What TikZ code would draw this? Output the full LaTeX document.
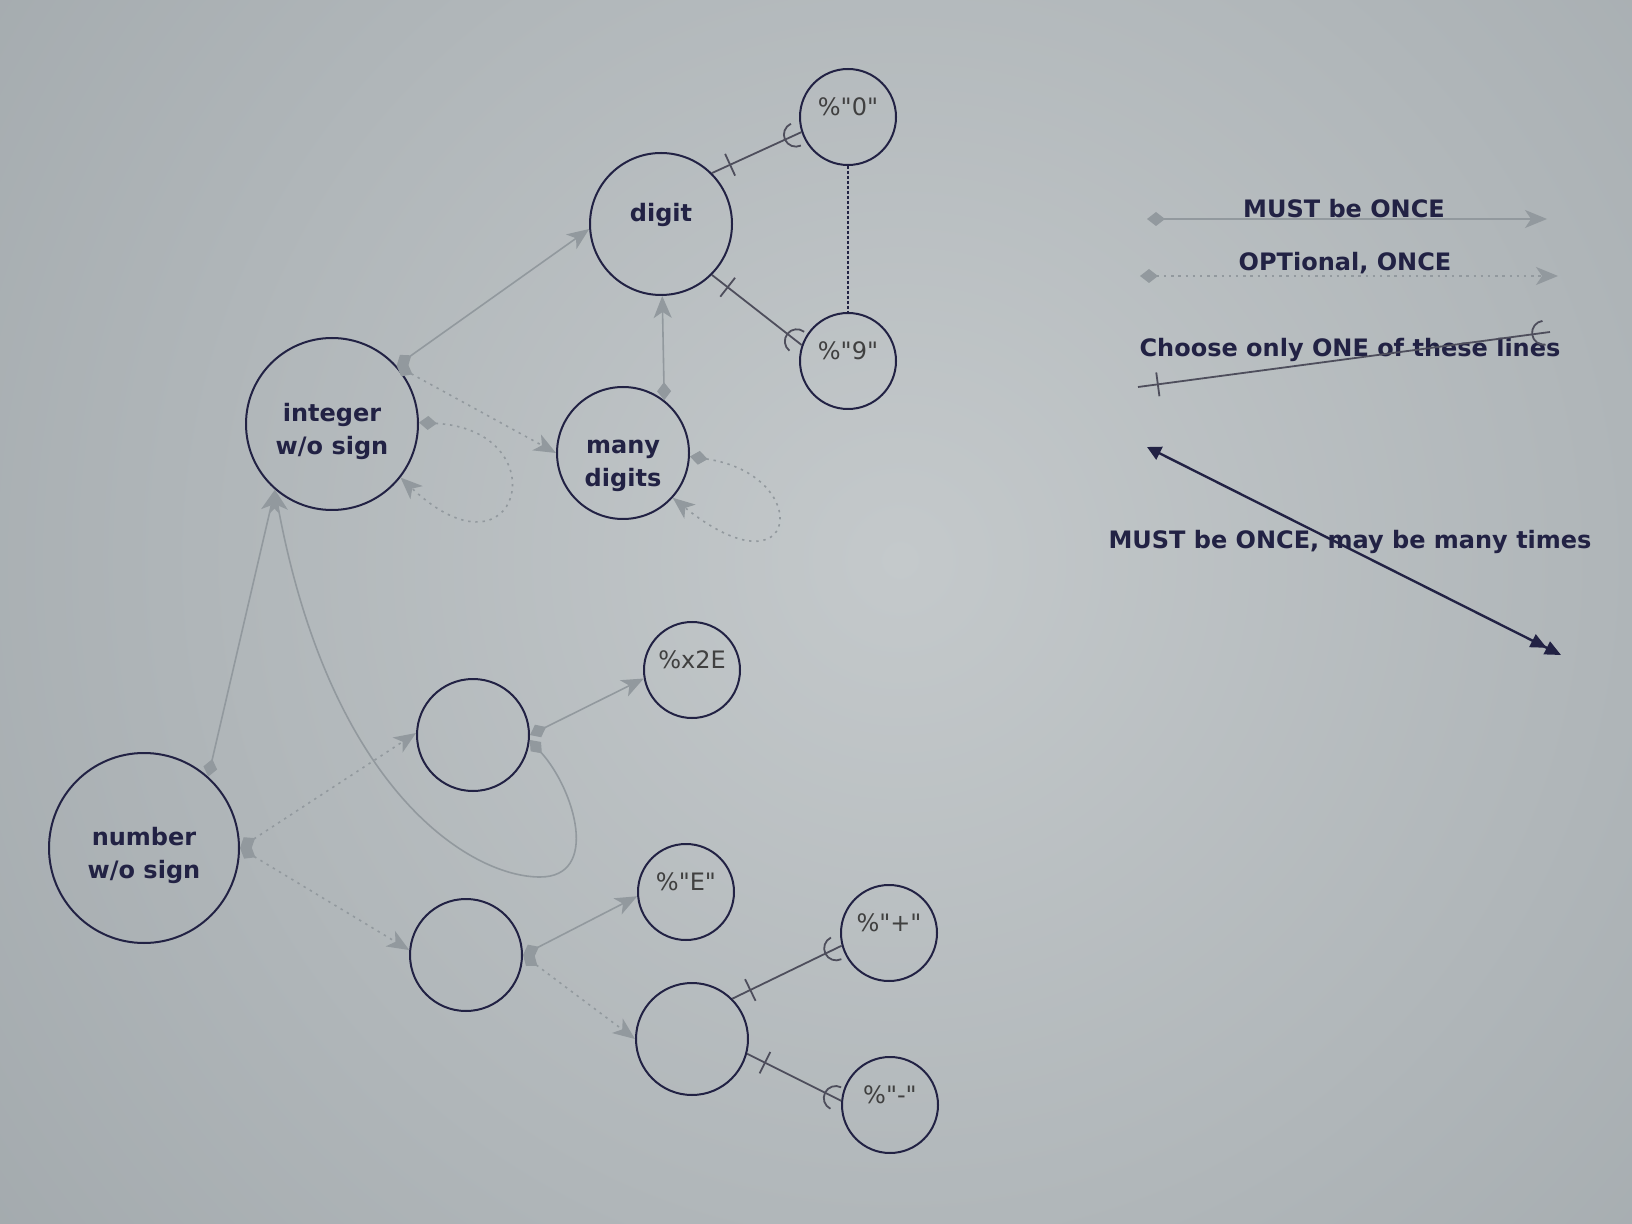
\documentclass[tikz,border=0pt]{standalone}
\usepackage{fontspec}
\setmainfont{DejaVu Sans}
\newfontfamily\termfont{DejaVu Sans}[Ligatures=TeXOff]
\usetikzlibrary{arrows.meta,positioning,decorations.markings}

\definecolor{ink}{RGB}{34,34,68}
\definecolor{faint}{RGB}{146,153,158}
\definecolor{wire}{RGB}{78,78,92}
\definecolor{bglight}{RGB}{196,201,203}
\definecolor{bgdark}{RGB}{136,144,149}

\tikzset{
  rulenode/.style={draw=ink, circle, line width=1pt, inner sep=0pt, align=center,
    text=ink, font=\bfseries\fontsize{12}{16.5}\selectfont},
  namelabel/.style={align=center, text=ink, yshift=-3.5pt,
    font=\bfseries\fontsize{12}{16.5}\selectfont},
  termnode/.style={rulenode, text=black!75, text depth=10.5pt, font=\termfont\fontsize{12}{14}\selectfont},
  legendtext/.style={text=ink, font=\bfseries\fontsize{12}{14}\selectfont},
  mustline/.style={draw=faint, line width=0.8pt,
    {Diamond[length=9pt,width=7pt]}-{Stealth[length=11pt,width=9pt,inset=3pt]}},
  optline/.style={mustline, dash pattern=on 1.2pt off 2.4pt},
  onlyone/.style={draw=wire, line width=0.9pt, postaction={decorate},
    decoration={markings,
      mark=at position 10pt with {\draw[wire, solid, line width=0.9pt] (0,-6pt) -- (0,6pt);},
      mark=at position -6pt with {\draw[wire, solid, line width=0.9pt] (3pt,6pt) arc[start angle=90, end angle=270, radius=6pt];}}},
}

\begin{document}
\begin{tikzpicture}[x=0.5pt, y=-0.5pt]
	\useasboundingbox (0,0) rectangle (1632,1224);
	\begin{scope}
		\clip (0,0) rectangle (1632,1224);
		\shade[inner color=bglight, outer color=bgdark] (900,560) circle[radius=2100];
	\end{scope}
	% the rules
	\node [rulenode, minimum size=71pt, text depth=12pt] (digit) at (661,224) {digit};
	\node [termnode, minimum size=48pt] (zero) at (848,117) {\%"0"};
	\node [termnode, minimum size=48pt, below=73pt of zero] (nine) {\%"9"};
	\node [rulenode, minimum size=86pt, label={[namelabel]center:{integer\\w/o sign}}] (integer) at (332,424) {};
	\node [rulenode, minimum size=66pt, label={[namelabel, yshift=-3pt]center:{many\\digits}}] (many) at (623,453) {};
	\node [rulenode, minimum size=95pt, label={[namelabel]center:{number\\w/o sign}}] (number) at (144,848) {};
	\node [rulenode, minimum size=56pt] (frac) at (473,735) {};
	\node [termnode, minimum size=48pt] (dot) at (692,670) {\%x2E};
	\node [rulenode, minimum size=56pt] (expo) at (466,955) {};
	\node [termnode, minimum size=48pt] (echar) at (686,892) {\%"E"};
	\node [rulenode, minimum size=56pt] (sign) at (692,1039) {};
	\node [termnode, minimum size=48pt] (plus) at (889,933) {\%"+"};
	\node [termnode, minimum size=48pt] (minus) at (890,1105) {\%"-"};
	% connecting them
	\draw [mustline] (integer.42) -- (digit.184);
	\draw [optline] (integer.42) -- (many.180);
	\draw [optline] (integer.1) .. controls (560,430) and (520,590) .. (integer.-38);
	\draw [mustline] (many.52) -- (digit.-89);
	\draw [optline] (many.-3) .. controls (815,475) and (800,600) .. (many.-42);
	\draw [onlyone] (digit.45) -- (zero.198);
	\draw [onlyone] (digit.-45) -- (nine.161);
	\draw [ink, line width=1pt, dash pattern=on 1.5pt off 1pt] (zero) -- (nine);
	\draw [mustline] (number.48) -- (integer.229);
	\draw [optline] (number.0) -- (frac.178);
	\draw [optline] (number.0) -- (expo.175);
	\draw [mustline] (frac.-5) .. controls (575,790) and (600,877) .. (540,877)
		.. controls (470,877) and (330,790) .. (integer.229);
	\draw [mustline] (frac.0) -- (dot.190);
	\draw [mustline] (expo.0) -- (echar.185);
	\draw [optline] (expo.0) -- (sign.180);
	\draw [onlyone] (sign.45) -- (plus.195);
	\draw [onlyone] (sign.-15) -- (minus.175);
	% legend
	\coordinate (mustA) at (1147,219);
	\coordinate [right=200pt of mustA] (mustB);
	\coordinate (optA) at (1140,276);
	\coordinate [right=209pt of optA] (optB);
	\coordinate (oneA) at (1138,387);
	\coordinate (oneB) at (1550,332);
	\coordinate (manyA) at (1147,447);
	\coordinate (manyB) at (1561,655);
	\draw [mustline] (mustA) -- (mustB);
	\draw [optline] (optA) -- (optB);
	\node [legendtext] (mustT) at (1344,209) {MUST be ONCE};
	\node [legendtext] (optT) at (1345,263) {OPTional, ONCE};
	\node [legendtext] (oneT) at (1350,350) {Choose only ONE of these lines};
	\node [legendtext] (manyT) at (1350,542) {MUST be ONCE, may be many times};
	\draw [onlyone] (oneA) -- (oneB);
	\draw [ink, line width=1.2pt, {Triangle[length=7pt,width=7pt]}-{Triangle[length=8pt,width=7pt]Triangle[length=8pt,width=7pt]}] (manyA) -- (manyB);
\end{tikzpicture}
\end{document}
